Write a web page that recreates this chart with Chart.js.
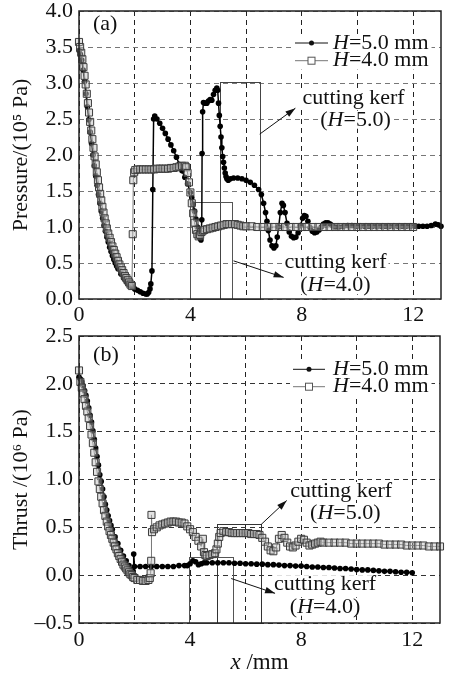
<!DOCTYPE html>
<html>
<head>
<meta charset="utf-8">
<script src="https://cdn.jsdelivr.net/npm/chart.js@4.4.0/dist/chart.umd.min.js"></script>
<style>
  html, body { margin: 0; padding: 0; background: #fff; }
  #wrap { position: relative; width: 449px; height: 676px; overflow: hidden; }
  canvas { position: absolute; left: 0; }
  #chartA { top: 0; }
  #chartB { top: 318px; }
</style>
</head>
<body>
<div id="wrap">
  <canvas id="chartA" width="449" height="330"></canvas>
  <canvas id="chartB" width="449" height="358"></canvas>
</div>
<script>
// axis ticks
const xTicks = [0, 2, 4, 6, 8, 10, 12];
const xLabels = [0, 4, 8, 12];
const pTicks = [0, 0.5, 1, 1.5, 2, 2.5, 3, 3.5, 4];
const tTicks = [-0.5, 0, 0.5, 1, 1.5, 2, 2.5];
const seriesNames = ['=5.0 mm', '=4.0 mm'];

// (a) pressure, H=5.0 mm
const p5x = [0,0.05,0.1,0.15,0.2,0.25,0.3,0.35,0.4,0.45,0.5,0.55,0.6,0.65,0.7,0.75,0.8,0.85,0.9,0.95,
  1.0,1.05,1.1,1.15,1.2,1.25,1.3,1.35,1.4,
  1.5,1.6,1.7,1.8,1.9,2.0,2.1,2.2,2.3,2.4,
  2.45,2.5,2.55,2.58,2.62,2.65,2.68,2.72,
  2.8,2.9,3.0,3.1,3.2,3.3,3.4,3.5,3.6,3.7,3.8,3.9,
  4.0,4.05,4.1,4.15,4.2,4.25,4.3,4.35,
  4.38,4.41,4.42,4.44,4.47,
  4.53,4.59,4.65,4.71,4.77,4.83,4.89,4.95,
  4.98,5.01,5.04,5.07,5.1,5.13,5.16,5.19,5.22,5.25,5.28,5.31,
  5.36,5.43,5.55,5.7,5.85,6.0,6.15,6.3,6.45,
  6.55,6.63,6.7,6.75,6.8,6.86,6.93,7.0,7.07,7.12,7.17,7.23,7.29,7.34,7.4,7.47,
  7.55,7.63,7.71,7.79,7.87,7.95,8.03,8.09,8.15,8.22,8.3,8.38,8.46,8.54,8.62,8.7,8.78,8.86,8.94,9.02,9.1,
  9.2,9.35,9.5,9.65,9.8,9.95,10.1,10.25,10.4,10.55,10.7,10.85,11.0,11.15,11.3,11.45,11.6,11.75,11.9,12.05,12.2,12.35,12.5,12.65,12.8,
  12.9,13.0];
const p5y = [3.45,3.4,3.32,3.18,3.02,2.85,2.67,2.49,2.32,2.16,2.0,1.85,1.71,1.58,1.45,1.33,1.22,1.12,1.02,0.94,
  0.86,0.79,0.72,0.66,0.6,0.55,0.5,0.46,0.42,
  0.35,0.29,0.24,0.2,0.17,0.14,0.12,0.1,0.08,0.07,
  0.07,0.09,0.14,0.21,0.39,1.52,2.5,2.54,
  2.5,2.44,2.37,2.3,2.22,2.14,2.06,1.97,1.87,1.78,1.69,1.6,
  1.48,1.41,1.32,1.22,1.11,1.0,0.92,0.84,
  0.82,1.1,2.02,2.6,2.73,
  2.72,2.72,2.75,2.77,2.76,2.84,2.9,2.93,
  2.9,2.72,2.55,2.4,2.25,2.1,1.98,1.9,1.82,1.75,1.7,1.67,
  1.65,1.67,1.68,1.68,1.67,1.65,1.62,1.58,1.52,
  1.45,1.33,1.2,1.08,0.95,0.82,0.74,0.71,0.74,0.86,1.0,1.2,1.33,1.3,1.2,1.05,
  0.93,0.87,0.85,0.86,0.92,1.02,1.12,1.16,1.15,1.08,0.99,0.94,0.92,0.93,0.96,1.0,1.04,1.06,1.06,1.04,1.02,
  1.0,1.0,1.01,1.02,1.02,1.01,1.01,1.01,1.01,1.01,1.01,1.01,1.01,1.01,1.01,1.01,1.01,1.01,1.01,1.01,1.01,1.01,1.01,1.02,1.04,
  1.03,1.01];

// (a) pressure, H=4.0 mm
const p4x = [0,0.04,0.08,0.12,0.16,0.2,0.24,0.28,0.32,0.36,0.4,0.44,0.48,0.52,0.56,0.6,0.64,0.68,0.72,0.76,0.8,0.84,0.88,0.92,0.96,
  1.0,1.05,1.1,1.15,1.2,1.25,1.3,1.35,1.4,1.45,1.5,1.55,1.6,1.65,1.7,1.75,1.8,1.85,1.9,
  1.93,1.95,1.98,2.02,
  2.1,2.2,2.3,2.4,2.5,2.6,2.7,2.8,2.9,3.0,3.1,3.2,3.3,3.4,3.5,3.6,3.7,3.8,
  3.85,3.9,3.95,4.0,4.05,4.1,4.15,4.2,4.25,4.3,4.35,4.4,4.45,4.5,
  4.6,4.7,4.8,4.9,5.0,5.1,5.2,5.3,5.4,5.5,5.6,5.7,5.8,5.9,
  6.0,6.2,6.4,6.6,6.8,7.0,7.2,7.4,7.6,7.8,8.0,8.2,8.4,8.6,8.8,9.0,9.2,9.4,9.6,9.8,10.0,10.2,10.4,10.6,10.8,11.0,11.2,11.4,11.6,11.8,12.0];
const p4y = [3.57,3.5,3.42,3.33,3.22,3.1,2.98,2.85,2.72,2.59,2.46,2.34,2.22,2.1,1.98,1.87,1.76,1.65,1.55,1.46,1.37,1.28,1.2,1.12,1.05,
  0.98,0.91,0.85,0.79,0.73,0.68,0.63,0.58,0.53,0.48,0.44,0.4,0.36,0.32,0.29,0.26,0.23,0.2,0.18,
  0.9,1.65,1.76,1.79,
  1.8,1.8,1.8,1.8,1.8,1.8,1.8,1.81,1.81,1.81,1.81,1.81,1.82,1.82,1.83,1.84,1.85,1.85,
  1.83,1.75,1.62,1.48,1.33,1.19,1.06,0.96,0.9,0.87,0.89,0.93,0.95,0.96,
  0.97,0.98,0.99,1.0,1.01,1.02,1.03,1.04,1.04,1.04,1.04,1.03,1.02,1.01,
  1.01,1.01,1.0,1.0,1.0,1.0,1.0,1.0,1.0,1.0,1.0,1.0,1.0,1.0,1.0,1.0,1.0,1.0,1.0,1.0,1.0,1.0,1.0,1.0,1.0,1.0,1.0,1.0,1.0,1.0,1.0];

// (b) thrust, H=5.0 mm
const t5x = [0,0.05,0.1,0.15,0.2,0.25,0.3,0.35,0.4,0.45,0.5,0.55,0.6,0.65,0.7,0.75,0.8,0.85,0.9,0.95,1.0,1.05,1.1,1.15,1.2,
  1.3,1.4,1.5,1.6,1.7,1.8,1.9,
  1.95,1.97,2.0,
  2.2,2.4,2.6,2.8,3.0,3.2,3.4,3.6,3.8,
  3.9,4.0,4.1,4.2,4.3,4.4,4.5,
  4.6,4.8,5.0,5.2,5.4,5.6,5.8,6.0,6.2,6.4,6.6,6.8,7.0,7.2,7.4,7.6,7.8,8.0,8.2,8.4,8.6,8.8,9.0,9.2,9.4,9.6,9.8,10.0,10.2,10.4,10.6,10.8,11.0,11.2,11.4,11.6,11.8,12.0];
const t5y = [2.07,2.05,2.02,1.98,1.93,1.88,1.82,1.75,1.67,1.6,1.51,1.42,1.33,1.24,1.15,1.05,0.98,0.9,0.82,0.74,0.68,0.62,0.57,0.52,0.48,
  0.4,0.33,0.26,0.2,0.15,0.1,0.06,
  0.04,0.22,0.09,
  0.09,0.09,0.09,0.09,0.09,0.09,0.09,0.1,0.1,
  0.1,0.12,0.15,0.14,0.11,0.12,0.13,
  0.13,0.13,0.13,0.13,0.13,0.125,0.125,0.12,0.12,0.115,0.115,0.11,0.11,0.105,0.1,0.1,0.095,0.095,0.09,0.085,0.085,0.08,0.08,0.075,0.07,0.07,0.065,0.06,0.055,0.055,0.05,0.045,0.04,0.04,0.035,0.03,0.03,0.025];

// (b) thrust, H=4.0 mm
const t4x = [0,0.05,0.1,0.15,0.2,0.25,0.3,0.35,0.4,0.45,0.5,0.55,0.6,0.65,0.7,0.75,0.8,0.85,0.9,0.95,1.0,
  1.05,1.1,1.15,1.2,1.25,1.3,1.35,1.4,1.45,1.5,1.55,1.6,1.65,1.7,1.75,1.8,1.85,1.9,1.95,
  2.0,2.1,2.2,2.3,2.4,2.5,2.55,2.58,2.6,2.61,2.63,
  2.7,2.8,2.9,3.0,3.1,3.2,3.3,3.4,3.5,3.6,3.7,3.8,3.9,4.0,4.1,4.2,4.3,4.4,
  4.46,4.5,4.55,4.6,4.7,4.8,4.9,4.95,5.0,5.05,5.1,
  5.2,5.3,5.4,5.5,5.6,5.7,5.8,5.9,6.0,6.1,6.2,6.3,6.4,6.5,6.6,6.7,6.8,6.9,7.0,7.1,7.2,7.3,7.4,7.5,7.6,7.7,7.8,7.9,8.0,8.1,8.2,8.3,8.4,8.5,8.6,8.7,8.8,
  9.0,9.2,9.4,9.6,9.8,10.0,10.2,10.4,10.6,10.8,11.0,11.2,11.4,11.6,11.8,12.0,12.2,12.4,12.6,12.8,13.0];
const t4y = [2.14,2.02,1.96,1.9,1.84,1.77,1.71,1.64,1.56,1.47,1.38,1.28,1.18,1.08,0.98,0.9,0.82,0.75,0.68,0.62,0.56,
  0.51,0.46,0.42,0.38,0.34,0.3,0.27,0.23,0.2,0.17,0.14,0.11,0.09,0.07,0.05,0.03,0.01,0.0,-0.02,
  -0.03,-0.05,-0.05,-0.06,-0.06,-0.05,-0.03,0.02,0.15,0.63,0.45,
  0.48,0.5,0.52,0.53,0.54,0.55,0.56,0.56,0.56,0.55,0.55,0.54,0.51,0.48,0.45,0.4,0.36,0.3,
  0.38,0.24,0.21,0.2,0.21,0.22,0.23,0.27,0.33,0.4,0.44,
  0.46,0.45,0.45,0.44,0.44,0.44,0.44,0.44,0.44,0.44,0.43,0.43,0.43,0.42,0.39,0.35,0.3,0.26,0.25,0.29,0.38,0.42,0.39,0.34,0.3,0.29,0.31,0.35,0.38,0.37,0.34,0.31,0.32,0.33,0.34,0.35,0.34,
  0.34,0.34,0.34,0.34,0.33,0.33,0.33,0.33,0.33,0.33,0.32,0.32,0.32,0.32,0.31,0.31,0.31,0.31,0.3,0.3,0.3];

const SERIF = "'Liberation Serif', 'Times New Roman', serif";

function toPts(xs, ys) {
    return xs.map((x, i) => ({ x: x, y: ys[i] }));
}

function fmtTick(v) {
    const s = Math.abs(v).toFixed(1);
    return v < 0 ? '\u2013' + s : s;
}

// text made of plain and italic pieces
function richWidth(ctx, parts, size) {
    let w = 0;
    parts.forEach(([t, it]) => {
        ctx.font = (it ? 'italic ' : '') + size + 'px ' + SERIF;
        w += ctx.measureText(t).width;
    });
    return w;
}
function drawRich(ctx, parts, x, y, size, align) {
    const total = richWidth(ctx, parts, size);
    let cx = align === 'left' ? x : x - total / 2;
    ctx.textAlign = 'left';
    ctx.textBaseline = 'middle';
    parts.forEach(([t, it]) => {
        ctx.font = (it ? 'italic ' : '') + size + 'px ' + SERIF;
        ctx.fillText(t, cx, y);
        cx += ctx.measureText(t).width;
    });
}

function drawArrow(ctx, x1, y1, x2, y2) {
    ctx.beginPath();
    ctx.moveTo(x1, y1);
    ctx.lineTo(x2, y2);
    ctx.stroke();
    const a = Math.atan2(y2 - y1, x2 - x1);
    const L = 10, W = 3.2;
    ctx.beginPath();
    ctx.moveTo(x2, y2);
    ctx.lineTo(x2 - L * Math.cos(a) + W * Math.sin(a), y2 - L * Math.sin(a) - W * Math.cos(a));
    ctx.lineTo(x2 - L * Math.cos(a) - W * Math.sin(a), y2 - L * Math.sin(a) + W * Math.cos(a));
    ctx.closePath();
    ctx.fill();
}

function makeDecor(cfg) {
    return {
        id: 'decor' + cfg.name,
        beforeDatasetsDraw(chart) {
            const { ctx } = chart;
            const xs = chart.scales.x, ys = chart.scales.y;
            ctx.save();
            // white patches under the notes
            ctx.fillStyle = '#fff';
            cfg.texts.forEach(t => {
                const w = richWidth(ctx, t.parts, 22);
                const px = xs.getPixelForValue(t.x), py = ys.getPixelForValue(t.y);
                ctx.fillRect(px - w / 2 - 2, py - 9, w + 4, 18);
            });
            const lw = richWidth(ctx, [['H', true], [seriesNames[0], false]], 22);
            ctx.fillRect(cfg.legend.x1 - 3, cfg.legend.y[0] - 9, cfg.legend.tx - cfg.legend.x1 + lw + 6, cfg.legend.y[1] - cfg.legend.y[0] + 18);
            // kerf boxes
            ctx.lineWidth = 1;
            cfg.boxes.forEach(b => {
                ctx.strokeStyle = b.color;
                const l = xs.getPixelForValue(b.x0), r = xs.getPixelForValue(b.x1);
                const t = ys.getPixelForValue(b.y1), bt = ys.getPixelForValue(b.y0);
                ctx.strokeRect(Math.round(l) + 0.5, Math.round(t) + 0.5, Math.round(r - l), Math.round(bt - t));
            });
            ctx.restore();
        },
        afterDraw(chart) {
            const { ctx, chartArea } = chart;
            const xs = chart.scales.x, ys = chart.scales.y;
            ctx.save();
            ctx.fillStyle = '#111';
            ctx.strokeStyle = '#111';
            ctx.lineWidth = 1;
            cfg.arrows.forEach(a => {
                drawArrow(ctx, xs.getPixelForValue(a[0]), ys.getPixelForValue(a[1]),
                    xs.getPixelForValue(a[2]), ys.getPixelForValue(a[3]));
            });
            cfg.texts.forEach(t => {
                drawRich(ctx, t.parts, xs.getPixelForValue(t.x), ys.getPixelForValue(t.y), 22, 'center');
            });
            drawRich(ctx, [[cfg.label, false]], xs.getPixelForValue(cfg.labelAt[0]), ys.getPixelForValue(cfg.labelAt[1]), 22, 'center');

            // legend
            const lg = cfg.legend;
            lg.y.forEach((y, i) => {
                const mid = (lg.x1 + lg.x2) / 2;
                ctx.lineWidth = 1;
                ctx.strokeStyle = i === 0 ? '#111' : '#777';
                ctx.beginPath();
                ctx.moveTo(lg.x1, y);
                ctx.lineTo(lg.x2, y);
                ctx.stroke();
                if (i === 0) {
                    ctx.fillStyle = '#111';
                    ctx.beginPath();
                    ctx.arc(mid, y, 2.5, 0, Math.PI * 2);
                    ctx.fill();
                } else {
                    ctx.fillStyle = '#fff';
                    ctx.strokeStyle = '#555';
                    ctx.fillRect(mid - 3.5, y - 3.5, 7, 7);
                    ctx.strokeRect(mid - 3.5, y - 3.5, 7, 7);
                }
                ctx.fillStyle = '#111';
                drawRich(ctx, [['H', true], [seriesNames[i], false]], lg.tx, y, 22, 'left');
            });

            if (cfg.xTitle) {
                ctx.fillStyle = '#111';
                drawRich(ctx, [['x', true], [' /mm', false]], (chartArea.left + chartArea.right) / 2, cfg.xTitle, 23, 'center');
            }

            // frame
            ctx.strokeStyle = '#222';
            ctx.lineWidth = 1.5;
            ctx.strokeRect(chartArea.left, chartArea.top, chartArea.right - chartArea.left, chartArea.bottom - chartArea.top);
            ctx.restore();
        }
    };
}

function buildScales(yTicks, yMin, yMax, yTitle, xHeight, hGridColor, xPad) {
    return {
        x: {
            type: 'linear', min: 0, max: 13,
            afterBuildTicks: s => { s.ticks = xTicks.map(v => ({ value: v })); },
            afterFit: s => { s.height = xHeight; s.paddingLeft = 0; s.paddingRight = 0; },
            ticks: {
                autoSkip: false, maxRotation: 0, padding: xPad, color: '#111',
                font: { family: SERIF, size: 22 },
                callback: v => xLabels.includes(v) ? String(v) : ''
            },
            grid: { color: '#222', lineWidth: 1, drawTicks: false },
            border: { display: false, dash: [5, 4] }
        },
        y: {
            type: 'linear', min: yMin, max: yMax,
            afterBuildTicks: s => { s.ticks = yTicks.map(v => ({ value: v })); },
            afterFit: s => { s.width = 79; s.paddingTop = 0; s.paddingBottom = 0; },
            ticks: {
                autoSkip: false, padding: 6, color: '#111',
                font: { family: SERIF, size: 22 },
                callback: v => fmtTick(v)
            },
            grid: { color: hGridColor, lineWidth: 1, drawTicks: false },
            border: { display: false, dash: [5, 4] },
            title: {
                display: true, text: yTitle, color: '#111',
                font: { family: SERIF, size: 22 },
                padding: { top: 8, bottom: 0 }
            }
        }
    };
}

function seriesSets(x5, y5, x4, y4) {
    return [
        {
            data: toPts(x4, y4), order: 0, clip: 6,
            borderColor: '#777', borderWidth: 1,
            pointStyle: 'rect', pointRadius: 5,
            pointBackgroundColor: 'rgba(190,190,190,0.45)',
            pointBorderColor: '#3c3c3c', pointBorderWidth: 1
        },
        {
            data: toPts(x5, y5), order: 1, clip: 6,
            borderColor: '#000', borderWidth: 1.5,
            pointStyle: 'circle', pointRadius: 2.8,
            pointBackgroundColor: '#000', pointBorderColor: '#000', pointBorderWidth: 0
        }
    ];
}

function baseOptions(scales, pad) {
    return {
        responsive: false, animation: false, devicePixelRatio: 1, events: [],
        layout: { padding: pad },
        plugins: { legend: { display: false }, tooltip: { enabled: false } },
        scales: scales
    };
}

new Chart(document.getElementById('chartA'), {
    type: 'line',
    data: { datasets: seriesSets(p5x, p5y, p4x, p4y) },
    options: baseOptions(
        buildScales(pTicks, 0, 4, 'Pressure/(10\u2075 Pa)', 31, '#777', 3),
        { top: 11, right: 8, bottom: 0, left: 0 }),
    plugins: [makeDecor({
        name: 'A',
        label: '(a)', labelAt: [0.94, 3.82],
        boxes: [
            { x0: 5.05, x1: 6.5, y0: 0, y1: 3.02, color: '#444' },
            { x0: 4.0, x1: 5.52, y0: 0, y1: 1.35, color: '#555' }
        ],
        arrows: [[6.49, 2.29, 7.77, 2.65], [5.55, 0.53, 7.35, 0.30]],
        texts: [
            { parts: [['cutting kerf', false]], x: 9.86, y: 2.79 },
            { parts: [['(', false], ['H', true], ['=5.0)', false]], x: 9.93, y: 2.49 },
            { parts: [['cutting kerf', false]], x: 9.21, y: 0.51 },
            { parts: [['(', false], ['H', true], ['=4.0)', false]], x: 9.21, y: 0.19 }
        ],
        legend: { x1: 295, x2: 328, tx: 333, y: [43, 60.7] },
        xTitle: null
    })]
});

new Chart(document.getElementById('chartB'), {
    type: 'line',
    data: { datasets: seriesSets(t5x, t5y, t4x, t4y) },
    options: baseOptions(
        buildScales(tTicks, -0.5, 2.5, 'Thrust /(10\u2076 Pa)', 53, '#333', 4),
        { top: 18, right: 9, bottom: 0, left: 0 }),
    plugins: [makeDecor({
        name: 'B',
        label: '(b)', labelAt: [0.97, 2.30],
        boxes: [
            { x0: 4.98, x1: 6.56, y0: -0.5, y1: 0.53, color: '#333' },
            { x0: 3.97, x1: 5.56, y0: -0.5, y1: 0.19, color: '#555' }
        ],
        arrows: [[6.56, 0.53, 7.48, 0.78], [5.48, -0.035, 7.06, -0.19]],
        texts: [
            { parts: [['cutting kerf', false]], x: 9.44, y: 0.88 },
            { parts: [['(', false], ['H', true], ['=5.0)', false]], x: 9.59, y: 0.65 },
            { parts: [['cutting kerf', false]], x: 8.86, y: -0.094 },
            { parts: [['(', false], ['H', true], ['=4.0)', false]], x: 8.86, y: -0.33 }
        ],
        legend: { x1: 293, x2: 325, tx: 333, y: [51.3, 68.7] },
        xTitle: 345
    })]
});
</script>
</body>
</html>
